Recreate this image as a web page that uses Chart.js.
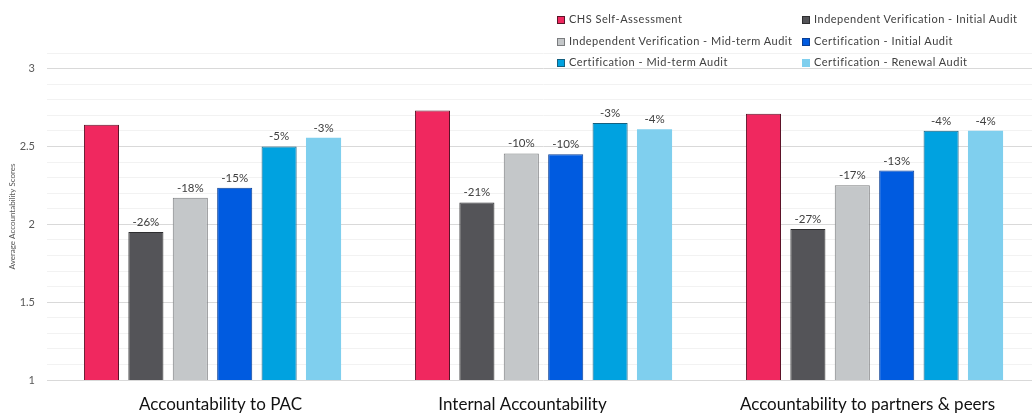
<!DOCTYPE html>
<html>
<head>
<meta charset="utf-8">
<script src="https://cdn.jsdelivr.net/npm/chart.js@4"></script>
<style>
  html, body { margin:0; padding:0; background:#fff; overflow:hidden; width:1032px; height:418px; }
  #wrap { position:relative; width:1040px; height:418px; }
  #legend { position:absolute; left:0; top:0; width:1032px; height:80px; pointer-events:none;
            font-family: Lato, "Open Sans", sans-serif; font-size:11px; color:#404040; letter-spacing:0.5px; }
  .li { position:absolute; white-space:nowrap; line-height:14px; }
  .sw { display:inline-block; width:8px; height:8px; margin-right:4px; vertical-align:-0.5px; box-sizing:border-box; border:1px solid #333; }
</style>
</head>
<body>
<div id="wrap">
  <canvas id="c" width="1040" height="418"></canvas>
  <div id="legend"></div>
</div>
<script>
const categories = ["Accountability to PAC", "Internal Accountability", "Accountability to partners & peers"];
const seriesNames = [
  "CHS Self-Assessment",
  "Independent Verification - Initial Audit",
  "Independent Verification - Mid-term Audit",
  "Certification - Initial Audit",
  "Certification - Mid-term Audit",
  "Certification - Renewal Audit"
];
const selfAssessment      = [2.64, 2.73, 2.71];
const ivInitial           = [1.95, 2.14, 1.97];
const ivMidterm           = [2.17, 2.455, 2.25];
const certInitial         = [2.235, 2.45, 2.345];
const certMidterm         = [2.50, 2.65, 2.60];
const certRenewal         = [2.555, 2.61, 2.60];
const seriesValues = [selfAssessment, ivInitial, ivMidterm, certInitial, certMidterm, certRenewal];

const pctSelf        = ["", "", ""];
const pctIvInitial   = ["-26%", "-21%", "-27%"];
const pctIvMidterm   = ["-18%", "-10%", "-17%"];
const pctCertInitial = ["-15%", "-10%", "-13%"];
const pctCertMidterm = ["-5%", "-3%", "-4%"];
const pctCertRenewal = ["-3%", "-4%", "-4%"];
const pctLabels = [pctSelf, pctIvInitial, pctIvMidterm, pctCertInitial, pctCertMidterm, pctCertRenewal];

const yTickLabels = {"1":"1", "1.5":"1.5", "2":"2", "2.5":"2.5", "3":"3"};

// styling
const fills   = ["#F0285F", "#545458", "#C4C7C9", "#005BE0", "#00A2E0", "#7FCFEE"];
const borders = ["#5a1428", "#2e2e30", "#7a7c7e", "#0a3f94", "#15607f", "#7FCFEE"];
const xLabelNudge = [8, -21, -7];   // category labels are slightly off-centre in the original
const FONT = 'Lato, "Open Sans", sans-serif';

const labelPlugin = {
  id: 'pctLabels',
  afterDatasetsDraw(chart) {
    const ctx = chart.ctx;
    ctx.save();
    ctx.font = '11.5px ' + FONT;
    ctx.fillStyle = '#404040';
    ctx.textAlign = 'center';
    ctx.textBaseline = 'bottom';
    chart.data.datasets.forEach((ds, di) => {
      const meta = chart.getDatasetMeta(di);
      meta.data.forEach((bar, i) => {
        const t = pctLabels[di][i];
        if (t) ctx.fillText(t, bar.x, bar.y - 4);
      });
    });
    // category labels, positioned from the category scale
    const xs = chart.scales.x;
    ctx.font = '17px ' + FONT;
    ctx.fillStyle = '#111111';
    ctx.textBaseline = 'middle';
    chart.data.labels.forEach((lab, i) => {
      ctx.fillText(lab, xs.getPixelForValue(i) + xLabelNudge[i], chart.chartArea.bottom + 25);
    });
    ctx.restore();
  }
};

new Chart(document.getElementById('c'), {
  type: 'bar',
  data: {
    labels: categories,
    datasets: seriesValues.map((vals, i) => ({
      label: seriesNames[i],
      data: vals,
      backgroundColor: fills[i],
      borderColor: borders[i],
      borderWidth: i === 5 ? 0 : 1,
      categoryPercentage: 0.805,
      barPercentage: 0.79
    }))
  },
  options: {
    responsive: false,
    animation: false,
    devicePixelRatio: 1,
    layout: { padding: { top: 53, right: 0, left: 0, bottom: 0 } },
    plugins: { legend: { display: false }, tooltip: { enabled: false } },
    scales: {
      x: {
        grid: { display: false, drawTicks: false },
        border: { display: false },
        ticks: { display: false },
        afterFit(s) { s.height = 38; }
      },
      y: {
        min: 1, max: 3.1,
        border: { display: false },
        grid: {
          drawTicks: false,
          color(ctx) {
            const v = Math.round(ctx.tick.value * 10);
            return v % 5 === 0 ? '#d9d9d9' : '#f2f2f2';
          }
        },
        ticks: {
          stepSize: 0.1,
          padding: 12,
          color: '#595959',
          font: { family: FONT, size: 11 },
          autoSkip: false,
          callback(v) {
            const key = String(Math.round(v * 10) / 10);
            return yTickLabels[key] || '';
          }
        },
        title: {
          display: true,
          text: 'Average Accountability Scores',
          color: '#595959',
          font: { family: FONT, size: 8 },
          padding: { top: 8, bottom: 0 }
        },
        afterFit(s) { s.width = 47; }
      }
    }
  },
  plugins: [labelPlugin]
});

// HTML legend built from series arrays
const legend = document.getElementById('legend');
const colX = [557, 802];
const rowY = [12, 34, 55];
seriesNames.forEach((name, i) => {
  const d = document.createElement('div');
  d.className = 'li';
  d.style.left = colX[i % 2] + 'px';
  d.style.top = rowY[Math.floor(i / 2)] + 'px';
  const sw = document.createElement('span');
  sw.className = 'sw';
  sw.style.background = fills[i];
  sw.style.borderColor = i === 5 ? fills[i] : borders[i];
  d.appendChild(sw);
  d.appendChild(document.createTextNode(name));
  legend.appendChild(d);
});
</script>
</body>
</html>
